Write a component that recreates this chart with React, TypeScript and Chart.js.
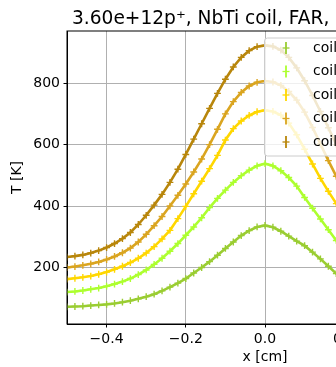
import { useEffect, useRef } from "react";
import { Chart, registerables } from "chart.js";

Chart.register(...registerables);

const FONT = "'DejaVu Sans', 'Liberation Sans', sans-serif";

const TITLE = "3.60e+12p\u207A, NbTi coil, FAR,";
const X_LABEL = "x [cm]";
const Y_LABEL = "T [K]";

const X_TICKS = [-0.4, -0.2, 0, 0.2, 0.4];
const Y_TICKS = [200, 400, 600, 800];

const X_POS = [
  -0.5, -0.48, -0.46, -0.44, -0.42, -0.4, -0.38, -0.36, -0.34, -0.32,
  -0.3, -0.28, -0.26, -0.24, -0.22, -0.2, -0.18, -0.16, -0.14, -0.12,
  -0.1, -0.08, -0.06, -0.04, -0.02, 0, 0.02, 0.04, 0.06, 0.08,
  0.1, 0.12, 0.14, 0.16, 0.18, 0.2, 0.22, 0.24, 0.26, 0.28,
  0.3, 0.32, 0.34, 0.36, 0.38, 0.4, 0.42, 0.44, 0.46, 0.48, 0.5,
];

const SERIES_NAMES = ["coil 1", "coil 2", "coil 3", "coil 4", "coil 5"];
const SERIES_COLORS = ["#9ACD32", "#ADFF2F", "#FFD700", "#DAA520", "#B8860B"];

const T_COIL1 = [
  72, 73, 74, 76, 78, 80, 83, 87, 92, 98,
  105, 113, 124, 136, 149, 164, 182, 200, 219, 240,
  262, 283, 304, 320, 332, 337, 331, 318, 302, 286,
  271, 250, 228, 204, 180, 160, 145, 132, 121, 111,
  103, 96, 91, 86, 83, 80, 77, 75, 74, 73, 72,
];
const T_COIL2 = [
  120, 122, 125, 129, 133, 139, 146, 154, 164, 177,
  192, 210, 230, 253, 278, 305, 332, 362, 395, 425,
  452, 477, 499, 517, 531, 538, 531, 515, 493, 465,
  428, 393, 358, 323, 288, 258, 232, 210, 192, 177,
  165, 155, 147, 141, 136, 131, 128, 125, 123, 121, 120,
];
const T_COIL3 = [
  162, 165, 168, 172, 178, 185, 194, 204, 216, 230,
  247, 268, 293, 321, 359, 399, 440, 481, 522, 565,
  615, 652, 677, 695, 707, 712, 708, 696, 670, 632,
  585, 537, 490, 448, 408, 370, 335, 302, 275, 252,
  233, 218, 205, 195, 187, 180, 175, 170, 167, 164, 162,
];
const T_COIL4 = [
  200, 203, 207, 212, 218, 226, 236, 248, 263, 283,
  308, 336, 366, 400, 435, 472, 511, 553, 600, 650,
  700, 740, 770, 791, 803, 807, 804, 793, 773, 745,
  706, 656, 602, 548, 497, 450, 408, 370, 337, 308,
  285, 266, 251, 239, 229, 221, 215, 210, 206, 203, 200,
];
const T_COIL5 = [
  234, 237, 241, 247, 255, 265, 278, 294, 314, 340,
  370, 403, 438, 477, 520, 568, 618, 668, 718, 767,
  813, 853, 884, 906, 919, 923, 920, 908, 884, 850,
  808, 760, 708, 655, 600, 548, 498, 452, 410, 373,
  342, 315, 295, 278, 266, 257, 250, 244, 240, 236, 234,
];

const SERIES_VALUES = [T_COIL1, T_COIL2, T_COIL3, T_COIL4, T_COIL5];

const X_MIN = -0.5;
const X_MAX = 0.5;
const Y_MIN = 16;
const Y_MAX = 970;

const CANVAS_W = 540;
const CANVAS_H = 367;

function fmtTick(v: number, digits: number) {
  const s = Math.abs(v) < 1e-9 ? (0).toFixed(digits) : v.toFixed(digits);
  return s.replace("-", "\u2212");
}

const framePlugin = {
  id: "frame",
  afterDatasetsDraw(chart: any) {
    const { ctx, chartArea } = chart;
    ctx.save();
    ctx.strokeStyle = "#000";
    ctx.lineWidth = 1;
    ctx.strokeRect(chartArea.left, chartArea.top, chartArea.right - chartArea.left, chartArea.bottom - chartArea.top);
    ctx.restore();
  },
};

const legendPlugin = {
  id: "mplLegend",
  afterDatasetsDraw(chart: any) {
    const { ctx } = chart;
    const x0 = 264.5;
    const y0 = 38;
    const w = 120;
    const h = 118;
    const r = 3;
    ctx.save();
    ctx.beginPath();
    ctx.moveTo(x0 + r, y0);
    ctx.lineTo(x0 + w - r, y0);
    ctx.quadraticCurveTo(x0 + w, y0, x0 + w, y0 + r);
    ctx.lineTo(x0 + w, y0 + h - r);
    ctx.quadraticCurveTo(x0 + w, y0 + h, x0 + w - r, y0 + h);
    ctx.lineTo(x0 + r, y0 + h);
    ctx.quadraticCurveTo(x0, y0 + h, x0, y0 + h - r);
    ctx.lineTo(x0, y0 + r);
    ctx.quadraticCurveTo(x0, y0, x0 + r, y0);
    ctx.closePath();
    ctx.fillStyle = "rgba(255,255,255,0.8)";
    ctx.fill();
    ctx.strokeStyle = "#cccccc";
    ctx.lineWidth = 1;
    ctx.stroke();

    ctx.font = `14px ${FONT}`;
    ctx.textBaseline = "middle";
    ctx.textAlign = "left";
    SERIES_NAMES.forEach((name, i) => {
      const y = 48 + i * 23.5;
      const hx = 286;
      ctx.strokeStyle = SERIES_COLORS[i];
      ctx.lineWidth = 1.8;
      ctx.beginPath();
      ctx.moveTo(hx, y - 6);
      ctx.lineTo(hx, y + 6);
      ctx.stroke();
      ctx.lineWidth = 1.3;
      ctx.beginPath();
      ctx.moveTo(hx - 3.5, y);
      ctx.lineTo(hx + 3.5, y);
      ctx.stroke();
      ctx.fillStyle = "#000";
      ctx.fillText(name, 313, y);
    });
    ctx.restore();
  },
};

const titlePlugin = {
  id: "mplTitle",
  afterDraw(chart: any) {
    const { ctx } = chart;
    ctx.save();
    ctx.font = `18.6px ${FONT}`;
    ctx.fillStyle = "#000";
    ctx.textAlign = "left";
    ctx.textBaseline = "alphabetic";
    ctx.fillText(TITLE, 72, 24);
    ctx.restore();
  },
};

export default function App() {
  const ref = useRef<HTMLCanvasElement>(null);

  useEffect(() => {
    const canvas = ref.current;
    if (!canvas) return;
    const datasets = SERIES_VALUES.map((vals, i) => ({
      label: SERIES_NAMES[i],
      data: X_POS.map((x, j) => ({ x, y: vals[j] })),
      borderColor: SERIES_COLORS[i],
      backgroundColor: SERIES_COLORS[i],
      borderWidth: 2.6,
      pointStyle: "cross" as const,
      pointRadius: 3.4,
      pointBorderWidth: 1.4,
      pointBorderColor: SERIES_COLORS[i],
      fill: false,
      tension: 0,
    }));

    const tickFont = { family: FONT, size: 14 };

    const chart = new Chart(canvas, {
      type: "line",
      data: { datasets },
      options: {
        animation: false,
        responsive: false,
        devicePixelRatio: 1,
        layout: { padding: { left: 0, right: CANVAS_W - 463, top: 31, bottom: 0 } },
        plugins: {
          legend: { display: false },
          title: { display: false },
          tooltip: { enabled: false },
        },
        scales: {
          x: {
            type: "linear",
            min: X_MIN,
            max: X_MAX,
            afterBuildTicks: (s: any) => {
              s.ticks = X_TICKS.map((v) => ({ value: v }));
            },
            afterFit: (s: any) => {
              s.height = 43;
            },
            ticks: {
              callback: (v: any) => fmtTick(Number(v), 1),
              color: "#000",
              font: tickFont,
              padding: 3.5,
              maxRotation: 0,
              autoSkip: false,
            },
            grid: { color: "#b0b0b0", lineWidth: 1, tickColor: "#000", tickLength: 3.5, tickWidth: 1 },
            border: { display: true, color: "#000", width: 1 },
            title: { display: true, text: X_LABEL, color: "#000", font: tickFont, padding: { top: 0, bottom: 1 } },
          },
          y: {
            type: "linear",
            min: Y_MIN,
            max: Y_MAX,
            afterBuildTicks: (s: any) => {
              s.ticks = Y_TICKS.map((v) => ({ value: v }));
            },
            afterFit: (s: any) => {
              s.width = 67;
            },
            ticks: {
              callback: (v: any) => String(v),
              color: "#000",
              font: tickFont,
              padding: 3.5,
              autoSkip: false,
            },
            grid: { color: "#b0b0b0", lineWidth: 1, tickColor: "#000", tickLength: 3.5, tickWidth: 1 },
            border: { display: true, color: "#000", width: 1 },
            title: { display: true, text: Y_LABEL, color: "#000", font: tickFont, padding: { top: 8.6, bottom: 0 } },
          },
        },
      },
      plugins: [framePlugin, legendPlugin, titlePlugin],
    });
    return () => chart.destroy();
  }, []);

  return (
    <div
      style={{
        position: "fixed",
        left: 0,
        top: 0,
        width: 336,
        height: 367,
        overflow: "hidden",
        background: "#fff",
      }}
    >
      <canvas
        ref={ref}
        width={CANVAS_W}
        height={CANVAS_H}
        style={{ display: "block", width: CANVAS_W, height: CANVAS_H }}
      />
    </div>
  );
}
